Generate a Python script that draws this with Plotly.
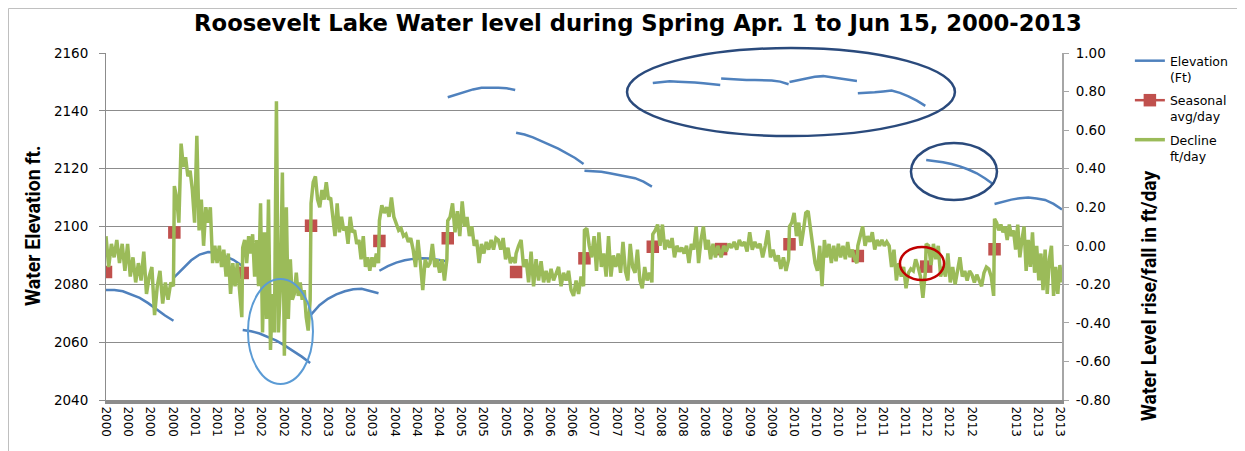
import numpy as np
import plotly.graph_objects as go

DAYS_PER_YEAR = 77  # Apr 1 .. Jun 15 rows per season

years = list(range(2000, 2014))

# Elevation (ft), left axis, sampled along each spring season
elevation_2000 = [2078.0, 2078.0, 2077.6, 2076.5, 2075.3, 2073.5, 2071.3, 2069.2, 2067.4]
elevation_2001 = [2082.5, 2085.5, 2088.3, 2090.3, 2091.2, 2091.0, 2089.8, 2088.5, 2086.5]
elevation_2002 = [2064.2, 2063.8, 2063.0, 2061.8, 2060.5, 2058.8, 2057.0, 2055.0, 2052.8]
elevation_2003 = [2069.5, 2072.8, 2075.0, 2076.5, 2077.6, 2078.3, 2078.5, 2077.8, 2076.9]
elevation_2004 = [2084.7, 2086.3, 2087.5, 2088.3, 2088.8, 2089.0, 2088.9, 2088.5, 2088.0]
elevation_2005 = [2144.7, 2145.6, 2146.5, 2147.4, 2148.0, 2148.1, 2148.0, 2147.8, 2147.2]
elevation_2006 = [2132.4, 2131.8, 2130.8, 2129.6, 2128.2, 2126.9, 2125.4, 2123.7, 2121.6]
elevation_2007 = [2119.3, 2119.2, 2118.9, 2118.4, 2117.9, 2117.3, 2116.7, 2115.5, 2113.8]
elevation_2008 = [2149.6, 2150.0, 2150.2, 2150.1, 2150.0, 2149.8, 2149.5, 2149.3, 2148.9]
elevation_2009 = [2151.2, 2151.0, 2150.8, 2150.7, 2150.7, 2150.6, 2150.5, 2150.1, 2149.2]
elevation_2010 = [2150.0, 2150.6, 2151.0, 2151.8, 2152.0, 2151.6, 2151.0, 2150.6, 2150.3]
elevation_2011 = [2146.1, 2146.2, 2146.4, 2146.7, 2147.0, 2146.2, 2145.0, 2143.5, 2141.7]
elevation_2012 = [2123.0, 2122.7, 2122.2, 2121.6, 2120.8, 2119.7, 2118.4, 2116.6, 2114.5]
elevation_2013 = [2107.8, 2108.6, 2109.3, 2109.8, 2110.0, 2109.7, 2109.2, 2107.8, 2105.9]

# Seasonal average rise/fall (ft/day), right axis, one per season
seasonal_avg = [-0.136, 0.069, -0.141, 0.104, 0.025, 0.039, -0.136,
                -0.065, -0.005, -0.017, 0.008, -0.053, -0.108, -0.018]

# Daily rise/fall (ft/day), right axis, sampled along each season
decline_2000 = [0.05, -0.11, 0.01, -0.06, 0.03, -0.09, 0.01, -0.13, 0.01, -0.16, -0.06, -0.19, -0.09,
                -0.18, -0.03, -0.25, -0.16, -0.11, -0.36, -0.21, -0.13, -0.30, -0.19, -0.28, -0.19, -0.21]
decline_2001 = [0.31, 0.25, 0.12, 0.53, 0.41, 0.46, 0.36, 0.39, 0.29, 0.12, 0.57, 0.08, 0.24, 0.00, 0.20,
                0.12, 0.20, -0.09, 0.00, -0.09, 0.00, -0.11, -0.02, -0.16, -0.04, -0.25, -0.09, -0.21,
                -0.09, -0.23, -0.37]
decline_2002 = [-0.01, 0.03, -0.09, 0.05, -0.04, 0.06, -0.16, 0.03, -0.21, 0.22, -0.45, 0.07, -0.38, 0.24,
                -0.54, -0.25, -0.45, 0.75, -0.45, -0.21, 0.38, -0.57, 0.20, -0.38, -0.07, -0.28, -0.25,
                -0.14, -0.26, -0.19, -0.28, -0.23, -0.37, -0.44, -0.28]
decline_2003 = [0.22, 0.33, 0.36, 0.24, 0.20, 0.29, 0.24, 0.33, 0.24, 0.25, 0.15, 0.05, 0.22, 0.07, 0.15,
                0.08, 0.10, 0.01, 0.15, 0.07, 0.08, 0.01, 0.03, -0.07, 0.05, -0.11, -0.06, -0.13, -0.06,
                -0.11, -0.04, -0.09]
decline_2004 = [0.13, 0.21, 0.17, 0.20, 0.15, 0.25, 0.15, 0.12, 0.08, 0.09, 0.05, 0.06, 0.02, 0.04, -0.02,
                -0.11, 0.03, -0.09, -0.23, -0.07, -0.11, -0.09, 0.01, -0.11, -0.07, -0.14, -0.07, -0.18, -0.07]
decline_2005 = [0.13, 0.15, 0.22, 0.07, 0.18, 0.05, 0.23, 0.10, 0.15, 0.05, 0.10, 0.00, 0.03, -0.09, 0.01,
                -0.04, 0.02, -0.02, 0.03, -0.02, 0.04, 0.03, -0.02, 0.04, -0.07, -0.01, -0.09, -0.06, -0.09]
decline_2006 = [-0.04, 0.00, 0.03, -0.11, -0.07, -0.19, -0.03, -0.21, -0.07, -0.18, -0.08, -0.19, -0.13,
                -0.19, -0.12, -0.18, -0.14, -0.11, -0.21, -0.14, -0.18, -0.13, -0.23, -0.26, -0.18, -0.25,
                -0.16, -0.21]
decline_2007 = [0.08, 0.09, 0.00, -0.06, 0.05, -0.13, 0.07, -0.11, -0.04, -0.16, 0.05, -0.16, -0.05, -0.11,
                -0.04, -0.14, 0.02, -0.13, -0.18, 0.01, -0.11, -0.14, -0.02, -0.18, -0.22, -0.11, -0.18,
                -0.14, -0.19]
decline_2008 = [0.06, 0.08, 0.11, 0.00, 0.11, -0.02, 0.03, -0.01, 0.04, -0.06, 0.00, -0.03, -0.01, -0.04,
                0.00, -0.09, 0.01, -0.02, 0.10, -0.09, 0.03, 0.10, -0.02, 0.03, -0.07, 0.01, -0.06, 0.00, -0.04]
decline_2009 = [-0.06, 0.00, -0.03, 0.01, -0.01, 0.02, -0.02, 0.03, 0.00, 0.02, -0.03, 0.07, -0.02, 0.02,
                -0.01, 0.01, -0.06, 0.00, 0.08, -0.06, -0.02, -0.08, -0.05, -0.12, -0.06, -0.13, -0.07]
decline_2010 = [0.10, 0.12, 0.17, 0.05, 0.12, 0.00, 0.08, 0.17, 0.18, 0.08, 0.00, -0.09, -0.13, 0.00, -0.21,
                0.03, -0.06, 0.01, -0.09, 0.00, -0.08, 0.01, -0.06, 0.00, -0.07, 0.02, -0.06, -0.02, -0.07, -0.09]
decline_2011 = [0.00, 0.05, 0.10, 0.00, 0.05, 0.02, 0.07, -0.02, 0.03, 0.00, 0.03, 0.00, 0.02, 0.00, -0.11,
                -0.02, -0.18, -0.09, -0.16, -0.11, -0.22, -0.14, -0.12, -0.13, -0.07, -0.11, -0.16, -0.27, -0.14]
decline_2012 = [0.01, 0.00, -0.10, 0.01, -0.07, 0.00, -0.16, -0.11, -0.16, -0.04, -0.19, -0.11, -0.20, -0.12,
                -0.06, -0.16, -0.13, -0.18, -0.13, -0.15, -0.19, -0.15, -0.18, -0.21, -0.14, -0.11, -0.12,
                -0.16, -0.26]
decline_2013 = [0.14, 0.12, 0.08, 0.11, 0.07, 0.10, 0.03, 0.11, 0.05, 0.08, -0.02, 0.11, -0.06, 0.03, 0.10,
                -0.13, 0.03, -0.11, 0.07, -0.14, 0.00, -0.18, -0.04, -0.23, -0.02, -0.25, -0.07, 0.00, -0.26,
                -0.11, -0.25, -0.10, -0.19]

# Category labels shown every 25 rows
x_tick_labels = ["2000", "2000", "2000", "2000", "2001", "2001", "2001", "2002", "2002", "2002",
                 "2003", "2003", "2003", "2004", "2004", "2004", "2005", "2005", "2005", "2006",
                 "2006", "2006", "2007", "2007", "2007", "2008", "2008", "2008", "2009", "2009",
                 "2009", "2010", "2010", "2010", "2011", "2011", "2011", "2012", "2012", "2012",
                 "", "2013", "2013", "2013"]
left_ticks = [2040, 2060, 2080, 2100, 2120, 2140, 2160]
right_ticks = [-0.8, -0.6, -0.4, -0.2, 0.0, 0.2, 0.4, 0.6, 0.8, 1.0]
right_tick_labels = ["-0.80", "-0.60", "-0.40", "-0.20", "0.00", "0.20", "0.40", "0.60", "0.80", "1.00"]

elevation = [elevation_2000, elevation_2001, elevation_2002, elevation_2003, elevation_2004,
             elevation_2005, elevation_2006, elevation_2007, elevation_2008, elevation_2009,
             elevation_2010, elevation_2011, elevation_2012, elevation_2013]
decline = [decline_2000, decline_2001, decline_2002, decline_2003, decline_2004, decline_2005,
           decline_2006, decline_2007, decline_2008, decline_2009, decline_2010, decline_2011,
           decline_2012, decline_2013]

# ---- build plotting arrays (row index along category axis) ----
bx, by = [], []
for k, seg in enumerate(elevation):
    xs = k * DAYS_PER_YEAR + np.linspace(0, DAYS_PER_YEAR - 1, len(seg))
    bx += list(xs) + [k * DAYS_PER_YEAR + DAYS_PER_YEAR - 0.5]
    by += list(seg) + [None]

gx, gy = [], []
for k, seg in enumerate(decline):
    xs = k * DAYS_PER_YEAR + np.linspace(0, DAYS_PER_YEAR - 1, len(seg))
    gx += list(xs)
    gy += list(seg)

rx, ry = [], []
for k, v in enumerate(seasonal_avg):
    rx += [k * DAYS_PER_YEAR, k * DAYS_PER_YEAR + DAYS_PER_YEAR / 2]
    ry += [v, None]

N = DAYS_PER_YEAR * len(years)

BLUE = "#4F81BD"
RED = "#C0504D"
GREEN = "#9BBB59"
GRID = "#8C8C8C"
TICKFONT = dict(family="DejaVu Sans", size=13.5, color="#000000")

# The page body adds an 8px offset; the figure is sized so the plot lands where the reference has it.
W, H = 1237, 443
PL, PR, PT, PB = 98, 183, 45, 51

fig = go.Figure()
fig.add_trace(go.Scatter(x=bx, y=by, mode="lines", name="Elevation<br>(Ft)", legendgroup="a",
                         line=dict(color=BLUE, width=2.5), connectgaps=False, yaxis="y"))
fig.add_trace(go.Scatter(x=rx, y=ry, mode="lines+markers", name="Seasonal<br>avg/day", legendgroup="b",
                         line=dict(color=RED, width=2.5),
                         marker=dict(symbol="square", size=12.5, color=RED),
                         connectgaps=False, yaxis="y2"))
fig.add_trace(go.Scatter(x=gx, y=gy, mode="lines", name="Decline<br>ft/day", legendgroup="c",
                         line=dict(color=GREEN, width=3.5), yaxis="y2"))

shapes = [
    # outer chart border
    dict(type="rect", xref="paper", yref="paper", x0=-0.1020, x1=1.4, y0=-0.3, y1=1.1283,
         line=dict(color="#BFBFBF", width=1), layer="below"),
    # hand-drawn highlight ellipses
    dict(type="circle", xref="paper", yref="paper", x0=0.1485, x1=0.2165, y0=0.0461, y1=0.3487,
         line=dict(color="#5B9BD5", width=2)),
    dict(type="circle", xref="paper", yref="paper", x0=0.545, x1=0.888, y0=0.7608, y1=1.0144,
         line=dict(color="#2A4A7C", width=2.5)),
    dict(type="circle", xref="paper", yref="paper", x0=0.842, x1=0.932, y0=0.5764, y1=0.7406,
         line=dict(color="#2A4A7C", width=2.5)),
    dict(type="circle", xref="paper", yref="paper", x0=0.8305, x1=0.8766, y0=0.3458, y1=0.4409,
         line=dict(color="#C00000", width=2.5)),
]

fig.update_layout(
    width=W, height=H,
    margin=dict(l=PL, r=PR, t=PT, b=PB, autoexpand=False),
    paper_bgcolor="white", plot_bgcolor="white",
    title=dict(text="<b>Roosevelt Lake Water level during Spring Apr. 1 to Jun 15, 2000-2013</b>",
               font=dict(family="DejaVu Sans", size=22.7, color="#000000"),
               xref="container", x=(638 - 8) / W, xanchor="center",
               yref="container", y=1 - (23 - 8) / H, yanchor="middle"),
    xaxis=dict(range=[0, N - 1], tickmode="array",
               tickvals=[25 * i for i in range(len(x_tick_labels))], ticktext=x_tick_labels,
               tickangle=90, tickfont=dict(family="DejaVu Sans", size=12, color="#000000"),
               showgrid=False, zeroline=False, showline=True, linecolor="#8C8C8C", linewidth=4,
               ticks=""),
    yaxis=dict(range=[2040, 2160], tickmode="array", tickvals=left_ticks,
               tickfont=TICKFONT, showgrid=True, gridcolor=GRID, gridwidth=1,
               zeroline=False, showline=True, linecolor=GRID, linewidth=1,
               ticks="outside", ticklen=6, tickcolor=GRID, ticklabelstandoff=8),
    yaxis2=dict(range=[-0.8, 1.0], overlaying="y", side="right", tickmode="array",
                tickvals=right_ticks, ticktext=right_tick_labels, tickfont=TICKFONT,
                showgrid=False, zeroline=False, showline=True, linecolor="#A6A6A6", linewidth=2,
                ticks="outside", ticklen=5, tickcolor="#A6A6A6", ticklabelstandoff=4),
    legend=dict(x=1.071, y=1.02, xanchor="left", yanchor="top", valign="top",
                font=dict(family="DejaVu Sans", size=12.5, color="#000000"),
                bgcolor="rgba(0,0,0,0)", tracegroupgap=4, traceorder="grouped"),
    shapes=shapes,
    annotations=[
        dict(text="<b>Water Elevation ft.</b>", xref="paper", yref="paper",
             x=(33 - 106) / 956, y=(400 - 226) / 347, textangle=-90, showarrow=False,
             font=dict(family="Roboto", size=19.5, color="#000000"), xanchor="center", yanchor="middle"),
        dict(text="<b>Water Level rise/fall in ft/day</b>", xref="paper", yref="paper",
             x=(1149 - 106) / 956, y=(400 - 296) / 347, textangle=-90, showarrow=False,
             font=dict(family="Roboto", size=19.3, color="#000000"), xanchor="center", yanchor="middle"),
    ],
    showlegend=True,
)

fig.write_html("out.html")
